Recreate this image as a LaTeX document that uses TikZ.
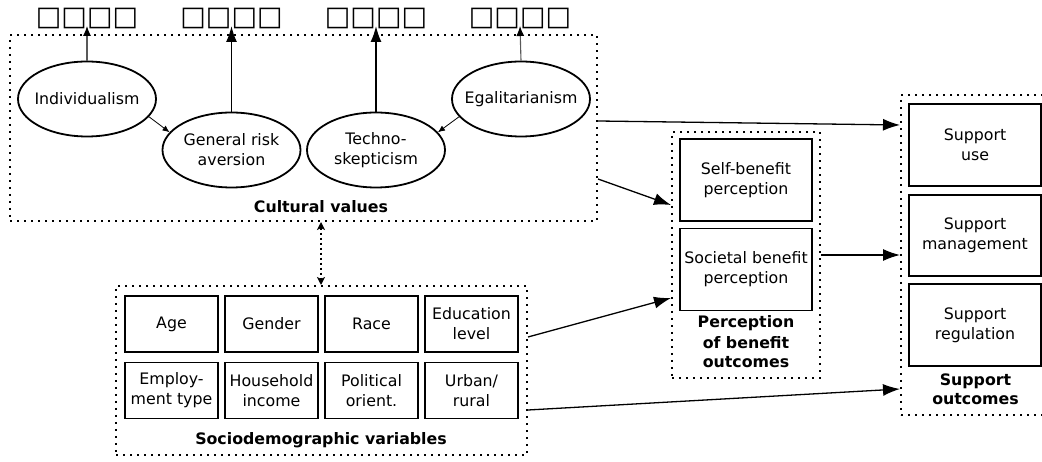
\documentclass[tikz,border=0pt]{standalone}
\usepackage{fontspec}
\setmainfont{DejaVu Sans}
\newfontfamily\tofufont{DejaVu Sans}
\usetikzlibrary{shapes.geometric,arrows.meta}
\begin{document}
\begin{tikzpicture}[x=1pt,y=-1pt,
  txt/.style={font=\fontsize{15.8}{20}\selectfont, align=center, inner sep=0pt},
  lab/.style={font=\fontsize{15.8}{20}\selectfont\bfseries, align=center, inner sep=0pt, anchor=base},
  oval/.style={ellipse, draw, line width=1.8pt, inner sep=0pt, minimum width=138pt, minimum height=75pt},
  box/.style={draw, line width=1.8pt, txt},
  dotbox/.style={draw, line width=2pt, dash pattern=on 2pt off 5pt, inner sep=0pt},
  tofu/.style={font=\tofufont\fontsize{27}{27}\selectfont, inner sep=0pt, anchor=base},
  mainarr/.style={line width=1.3pt, -{Latex[length=17pt,width=12pt]}},
  uparr/.style={line width=1.6pt, -{Latex[length=16pt,width=11pt]}},
  thinup/.style={line width=1.1pt, draw=black!65, -{Latex[length=10pt,width=8pt,fill=black,color=black]}},
  smallarr/.style={line width=0.8pt, -{Latex[length=7pt,width=6pt]}}
]
\clip (0,0) rectangle (1042,462);
\fill[white] (0,0) rectangle (1042,462);

% Cultural values
\node[dotbox, minimum width=587pt, minimum height=186pt] (cv) at (303.5,128) {};
\node[lab] (cvlab) at (321,213) {Cultural values};
\node[oval] (ind) at (87,99) {};
\node[oval] (gra) at (231.5,150) {};
\node[oval] (tec) at (376,150) {};
\node[oval] (ega) at (521,99) {};
\node[txt] (indt) at (ind.center) {Individualism};
\node[txt] (grat) at (gra.center) {General risk\\aversion};
\node[txt] (tect) at (tec.center) {Techno-\\skepticism};
\node[txt] (egat) at (ega.center) {Egalitarianism};

\node[tofu] (t1) at (87,26) {□□□□};
\node[tofu] (t2) at (231.5,26) {□□□□};
\node[tofu] (t3) at (376,26) {□□□□};
\node[tofu] (t4) at (520,26) {□□□□};

\draw[thinup] (ind.north) -- (t1.base);
\draw[uparr] (gra.north) -- (t2.base);
\draw[uparr] (tec.north) -- (t3.base);
\draw[thinup] (ega.north) -- (t4.base);
\draw[smallarr] (ind.-16) -- (gra.164);
\draw[smallarr] (ega.196) -- (tec.16);

% Sociodemographic
\node[dotbox, minimum width=411pt, minimum height=169pt] (sd) at (321.5,370.5) {};
\node[lab] (sdlab) at (321,444) {Sociodemographic variables};
\begin{scope}[every node/.style={box, minimum width=93pt, minimum height=56pt}]
\node (age) at (171.5,324) {Age};
\node (gen) at (271.5,324) {Gender};
\node (rac) at (371.5,324) {Race};
\node (edu) at (471.5,324) {Education\\level};
\node (emp) at (171.5,390.5) {Employ-\\ment type};
\node (hou) at (271.5,390.5) {Household\\income};
\node (pol) at (371.5,390.5) {Political\\orient.};
\node (urb) at (471.5,390.5) {Urban/\\rural};
\end{scope}

% Perception of benefit
\node[dotbox, minimum width=148pt, minimum height=246pt] (pb) at (746,255) {};
\node[box, minimum width=132pt, minimum height=82pt] (self) at (746,180) {Self-benefit\\perception};
\node[box, minimum width=132pt, minimum height=82pt] (soc) at (746,269.5) {Societal benefit\\perception};
\node[lab] (pblab) at (746,368) {Perception\\of benefit\\outcomes};

% Support outcomes
\node[dotbox, minimum width=149pt, minimum height=320pt] (so) at (975.5,255) {};
\node[box, minimum width=132pt, minimum height=82pt] (use) at (975,145) {Support\\use};
\node[box, minimum width=132pt, minimum height=81pt] (man) at (975,235.5) {Support\\management};
\node[box, minimum width=132pt, minimum height=82pt] (reg) at (975,325) {Support\\regulation};
\node[lab] (solab) at (975.5,405) {Support\\outcomes};

% connectors
\draw[mainarr] ([yshift=7pt]cv.east) -- ([yshift=130pt]so.west);
\draw[mainarr] ([yshift=-51pt]cv.east) -- ([yshift=50pt]pb.west);
\draw[mainarr] ([yshift=33.5pt]sd.east) -- ([yshift=-43pt]pb.west);
\draw[mainarr] (pb.east) -- (so.west);
\draw[mainarr] ([yshift=-39.5pt]sd.east) -- ([yshift=-134pt]so.west);
\draw[line width=1.6pt, dash pattern=on 2pt off 3pt, {Stealth[length=8pt,width=8pt,inset=2pt]}-{Stealth[length=8pt,width=8pt,inset=2pt]}] ([xshift=17.5pt]cv.south) -- ([xshift=-0.5pt]sd.north);
\end{tikzpicture}
\end{document}
